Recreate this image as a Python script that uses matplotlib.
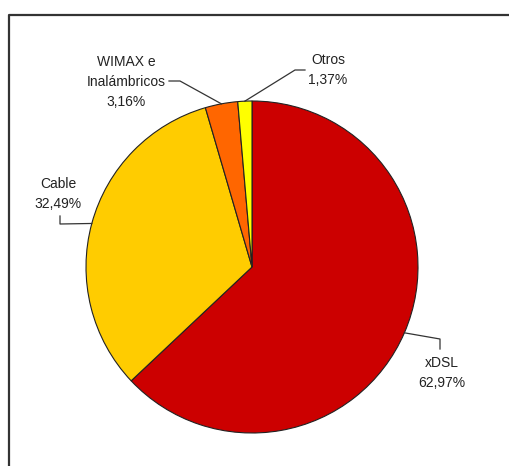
import numpy as np
import matplotlib.pyplot as plt

plt.rcParams['font.family'] = ['Liberation Sans', 'DejaVu Sans']

# Cuota de accesos de banda ancha por tecnología
tecnologias = ['xDSL', 'Cable', 'WIMAX e\nInalámbricos', 'Otros']
cuotas = [62.97, 32.49, 3.16, 1.37]
colores = ['#CC0000', '#FFCC00', '#FF6600', '#FFFF00']

W, H = 510, 466
fig = plt.figure(figsize=(W / 100, H / 100), dpi=100)
ax = fig.add_axes([0, 0, 1, 1])

def Y(py):
    # coordenadas en píxeles con origen arriba
    return H - py

wedges, _ = ax.pie(cuotas, colors=colores, startangle=90, counterclock=False,
                   center=(252, Y(267)), radius=166, normalize=True,
                   wedgeprops=dict(edgecolor='#222222', linewidth=0.8))
ax.set_xlim(0, W)
ax.set_ylim(0, H)
ax.set_aspect('equal')
ax.axis('off')

# marco del gráfico (solo se ven los bordes superior e izquierdo)
ax.plot([9, 9, W], [Y(H), Y(15), Y(15)], color='#333333', lw=1.6, clip_on=False)

def borde(w):
    ang = np.deg2rad((w.theta1 + w.theta2) / 2)
    cx, cy = w.center
    return cx + w.r * np.cos(ang), cy + w.r * np.sin(ang)

# posición del texto y recorrido de la línea guía (px)
etiquetas = {
    0: ((442, 373), [(440, 349), (440, 339)]),
    1: ((58, 194), [(60, 216), (60, 224)]),
    2: ((126, 82), [(169, 81), (180, 81)]),
    3: ((328, 70), [(305, 70), (295, 70)]),
}

for i, w in enumerate(wedges):
    (tx, ty), ruta = etiquetas[i]
    texto = f"{tecnologias[i]}\n{cuotas[i]:.2f}%".replace('.', ',')
    ax.text(tx, Y(ty), texto, ha='center', va='center', fontsize=10,
            color='#222222', linespacing=1.5)
    ex, ey = borde(w)
    xs = [p[0] for p in ruta] + [ex]
    ys = [Y(p[1]) for p in ruta] + [ey]
    ax.plot(xs, ys, color='#333333', lw=0.9)

fig.savefig('out.png', dpi=100, facecolor='white')
